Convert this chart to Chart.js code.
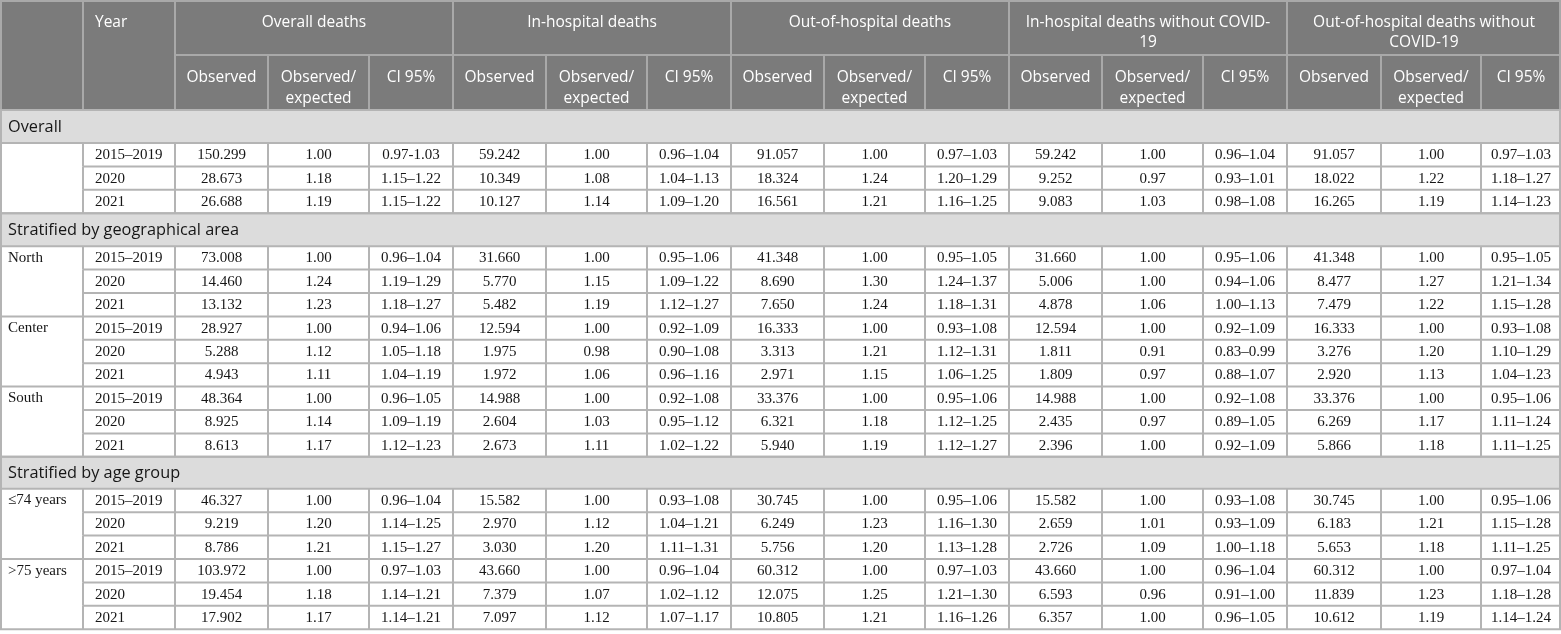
<!DOCTYPE html>
<html>
<head>
<meta charset="utf-8">
<title>Observed and expected deaths, 2015–2021</title>
<script src="https://cdn.jsdelivr.net/npm/chart.js@4.4.1/dist/chart.umd.min.js"></script>
<style>
  html, body { margin: 0; padding: 0; background: #fff; }
  #table-wrap { width: 1561px; height: 634px; }
</style>
</head>
<body>
<div id="table-wrap"><canvas id="table-canvas" width="1561" height="634"></canvas></div>
<script>
// Header texts
const groupTitles = [
  'Overall deaths',
  'In-hospital deaths',
  'Out-of-hospital deaths',
  'In-hospital deaths without COVID-19',
  'Out-of-hospital deaths without COVID-19',
];
const subTitles = ['Observed', 'Observed/expected', 'CI 95%'];
const yearTitle = 'Year';
const yearLabels = ['2015–2019', '2020', '2021'];

// Sections and their strata
const sectionTitles = ['Overall', 'Stratified by geographical area', 'Stratified by age group'];
const sectionStrata = [[''], ['North', 'Center', 'South'], ['≤74 years', '>75 years']];

// One row per year: observed, observed/expected, CI 95% for each of the five groups
const overallRows = [
  ['150.299', '1.00', '0.97-1.03', '59.242', '1.00', '0.96–1.04', '91.057', '1.00', '0.97–1.03', '59.242', '1.00', '0.96–1.04', '91.057', '1.00', '0.97–1.03'],
  ['28.673', '1.18', '1.15–1.22', '10.349', '1.08', '1.04–1.13', '18.324', '1.24', '1.20–1.29', '9.252', '0.97', '0.93–1.01', '18.022', '1.22', '1.18–1.27'],
  ['26.688', '1.19', '1.15–1.22', '10.127', '1.14', '1.09–1.20', '16.561', '1.21', '1.16–1.25', '9.083', '1.03', '0.98–1.08', '16.265', '1.19', '1.14–1.23'],
];
const northRows = [
  ['73.008', '1.00', '0.96–1.04', '31.660', '1.00', '0.95–1.06', '41.348', '1.00', '0.95–1.05', '31.660', '1.00', '0.95–1.06', '41.348', '1.00', '0.95–1.05'],
  ['14.460', '1.24', '1.19–1.29', '5.770', '1.15', '1.09–1.22', '8.690', '1.30', '1.24–1.37', '5.006', '1.00', '0.94–1.06', '8.477', '1.27', '1.21–1.34'],
  ['13.132', '1.23', '1.18–1.27', '5.482', '1.19', '1.12–1.27', '7.650', '1.24', '1.18–1.31', '4.878', '1.06', '1.00–1.13', '7.479', '1.22', '1.15–1.28'],
];
const centerRows = [
  ['28.927', '1.00', '0.94–1.06', '12.594', '1.00', '0.92–1.09', '16.333', '1.00', '0.93–1.08', '12.594', '1.00', '0.92–1.09', '16.333', '1.00', '0.93–1.08'],
  ['5.288', '1.12', '1.05–1.18', '1.975', '0.98', '0.90–1.08', '3.313', '1.21', '1.12–1.31', '1.811', '0.91', '0.83–0.99', '3.276', '1.20', '1.10–1.29'],
  ['4.943', '1.11', '1.04–1.19', '1.972', '1.06', '0.96–1.16', '2.971', '1.15', '1.06–1.25', '1.809', '0.97', '0.88–1.07', '2.920', '1.13', '1.04–1.23'],
];
const southRows = [
  ['48.364', '1.00', '0.96–1.05', '14.988', '1.00', '0.92–1.08', '33.376', '1.00', '0.95–1.06', '14.988', '1.00', '0.92–1.08', '33.376', '1.00', '0.95–1.06'],
  ['8.925', '1.14', '1.09–1.19', '2.604', '1.03', '0.95–1.12', '6.321', '1.18', '1.12–1.25', '2.435', '0.97', '0.89–1.05', '6.269', '1.17', '1.11–1.24'],
  ['8.613', '1.17', '1.12–1.23', '2.673', '1.11', '1.02–1.22', '5.940', '1.19', '1.12–1.27', '2.396', '1.00', '0.92–1.09', '5.866', '1.18', '1.11–1.25'],
];
const youngRows = [
  ['46.327', '1.00', '0.96–1.04', '15.582', '1.00', '0.93–1.08', '30.745', '1.00', '0.95–1.06', '15.582', '1.00', '0.93–1.08', '30.745', '1.00', '0.95–1.06'],
  ['9.219', '1.20', '1.14–1.25', '2.970', '1.12', '1.04–1.21', '6.249', '1.23', '1.16–1.30', '2.659', '1.01', '0.93–1.09', '6.183', '1.21', '1.15–1.28'],
  ['8.786', '1.21', '1.15–1.27', '3.030', '1.20', '1.11–1.31', '5.756', '1.20', '1.13–1.28', '2.726', '1.09', '1.00–1.18', '5.653', '1.18', '1.11–1.25'],
];
const oldRows = [
  ['103.972', '1.00', '0.97–1.03', '43.660', '1.00', '0.96–1.04', '60.312', '1.00', '0.97–1.03', '43.660', '1.00', '0.96–1.04', '60.312', '1.00', '0.97–1.04'],
  ['19.454', '1.18', '1.14–1.21', '7.379', '1.07', '1.02–1.12', '12.075', '1.25', '1.21–1.30', '6.593', '0.96', '0.91–1.00', '11.839', '1.23', '1.18–1.28'],
  ['17.902', '1.17', '1.14–1.21', '7.097', '1.12', '1.07–1.17', '10.805', '1.21', '1.16–1.26', '6.357', '1.00', '0.96–1.05', '10.612', '1.19', '1.14–1.24'],
];
const sectionRows = [[overallRows], [northRows, centerRows, southRows], [youngRows, oldRows]];

// Layout (in scale units, one unit per pixel of the 1561x634 frame)
const WIDTH = 1561;
const HEIGHT = 634;
const COL_W = [83, 92, 93, 101, 84, 93, 101, 84, 93, 101, 84, 93, 101, 84, 94, 100, 80];
const HEAD_H = 55;
const SECTION_H = [33, 33, 32];
const ROW_H = 23.4;

const HEAD_BG = '#7b7b7b';
const HEAD_LINE = '#a9a9a9';
const SECTION_BG = '#dcdcdc';
const CELL_LINE = '#b4b4b4';
const TEXT = '#161616';
const SANS = '"Open Sans", "Noto Sans", sans-serif';
const SERIF = '"Liberation Serif", "DejaVu Serif", serif';

const colX = [0];
COL_W.forEach((w) => colX.push(colX[colX.length - 1] + w));

// Build the row list from the data
const rows = [];
let yCursor = 2 * HEAD_H;
sectionTitles.forEach((title, s) => {
  rows.push({ kind: 'section', title, y0: yCursor, y1: yCursor + SECTION_H[s] });
  yCursor += SECTION_H[s];
  sectionStrata[s].forEach((stratum, k) => {
    const block = sectionRows[s][k];
    const y0 = yCursor;
    block.forEach((values, r) => {
      rows.push({ kind: 'data', year: yearLabels[r], values, y0: yCursor, y1: yCursor + ROW_H });
      yCursor += ROW_H;
    });
    rows.push({ kind: 'stratum', label: stratum, y0, y1: yCursor });
  });
});

// Split text after spaces, hyphens and slashes so it fits in maxW
function wrapText(ctx, text, maxW) {
  const parts = text.match(/[^\s\-\/]+[\-\/]?\s*|[\-\/]\s*/g) || [text];
  const lines = [];
  let line = '';
  parts.forEach((p) => {
    const test = line + p;
    if (line && ctx.measureText(test.trimEnd()).width > maxW) {
      lines.push(line.trimEnd());
      line = p;
    } else {
      line = test;
    }
  });
  if (line) lines.push(line.trimEnd());
  return lines;
}

const tablePlugin = {
  id: 'tableCells',
  afterDraw(chart) {
    const { ctx, scales: { x, y } } = chart;
    const px = (v) => x.getPixelForValue(v);
    const py = (v) => y.getPixelForValue(v);
    const line = (x0, y0, x1, y1) => {
      ctx.beginPath();
      ctx.moveTo(px(x0), py(y0));
      ctx.lineTo(px(x1), py(y1));
      ctx.stroke();
    };

    ctx.save();

    // Header background
    ctx.fillStyle = HEAD_BG;
    ctx.fillRect(px(0), py(0), px(WIDTH) - px(0), py(2 * HEAD_H) - py(0));

    // Section backgrounds
    ctx.fillStyle = SECTION_BG;
    rows.filter((r) => r.kind === 'section').forEach((r) => {
      ctx.fillRect(px(0), py(r.y0), px(WIDTH) - px(0), py(r.y1) - py(r.y0));
    });

    // Header grid
    ctx.lineWidth = 2;
    ctx.strokeStyle = HEAD_LINE;
    line(0, 1, WIDTH, 1);
    line(colX[2], HEAD_H, WIDTH, HEAD_H);
    colX.forEach((cx, i) => {
      const edge = Math.min(Math.max(cx, 1), WIDTH - 1);
      const full = i <= 2 || i === colX.length - 1 || (i - 2) % 3 === 0;
      line(edge, full ? 0 : HEAD_H, edge, 2 * HEAD_H);
    });

    // Body grid
    ctx.strokeStyle = CELL_LINE;
    rows.forEach((r) => {
      if (r.kind === 'section') {
        line(0, r.y0, WIDTH, r.y0);
        line(0, r.y1, WIDTH, r.y1);
        line(1, r.y0, 1, r.y1);
        line(WIDTH - 1, r.y0, WIDTH - 1, r.y1);
      } else if (r.kind === 'data') {
        line(colX[1], r.y1, WIDTH, r.y1);
        colX.slice(1).forEach((cx) => {
          const edge = Math.min(cx, WIDTH - 1);
          line(edge, r.y0, edge, r.y1);
        });
      } else {
        line(1, r.y0, 1, r.y1);
        line(0, r.y1, colX[1], r.y1);
      }
    });

    // Header texts
    ctx.fillStyle = '#ffffff';
    ctx.font = '15.5px ' + SANS;
    ctx.textBaseline = 'middle';
    ctx.textAlign = 'left';
    ctx.fillText(yearTitle, px(colX[1] + 12), py(23));
    ctx.textAlign = 'center';
    groupTitles.forEach((title, g) => {
      const x0 = colX[2 + 3 * g];
      const x1 = colX[5 + 3 * g];
      wrapText(ctx, title, x1 - x0 - 24).forEach((t, k) => {
        ctx.fillText(t, px((x0 + x1) / 2), py(23 + 20 * k));
      });
      subTitles.forEach((sub, j) => {
        const s0 = colX[2 + 3 * g + j];
        const s1 = colX[3 + 3 * g + j];
        wrapText(ctx, sub, s1 - s0 - 14).forEach((t, k) => {
          ctx.fillText(t, px((s0 + s1) / 2), py(HEAD_H + 23 + 20.5 * k));
        });
      });
    });

    // Body texts
    ctx.fillStyle = TEXT;
    rows.forEach((r) => {
      const mid = (r.y0 + r.y1) / 2;
      if (r.kind === 'section') {
        ctx.font = '16.3px ' + SANS;
        ctx.textAlign = 'left';
        ctx.fillText(r.title, px(8), py(mid + 1));
      } else if (r.kind === 'stratum') {
        ctx.font = '15px ' + SERIF;
        ctx.textAlign = 'left';
        ctx.fillText(r.label, px(8), py(r.y0 + ROW_H / 2));
      } else {
        ctx.font = '15px ' + SERIF;
        ctx.textAlign = 'left';
        ctx.fillText(r.year, px(colX[1] + 12), py(mid + 0.5));
        ctx.textAlign = 'center';
        r.values.forEach((v, c) => {
          ctx.fillText(v, px((colX[2 + c] + colX[3 + c]) / 2), py(mid + 0.5));
        });
      }
    });

    ctx.restore();
  },
};

new Chart(document.getElementById('table-canvas'), {
  type: 'scatter',
  data: { datasets: [] },
  options: {
    responsive: false,
    animation: false,
    layout: { padding: 0 },
    scales: {
      x: { type: 'linear', min: 0, max: WIDTH, display: false },
      y: { type: 'linear', min: 0, max: HEIGHT, reverse: true, display: false },
    },
    plugins: { legend: { display: false }, tooltip: { enabled: false } },
  },
  plugins: [tablePlugin],
});
</script>
</body>
</html>
